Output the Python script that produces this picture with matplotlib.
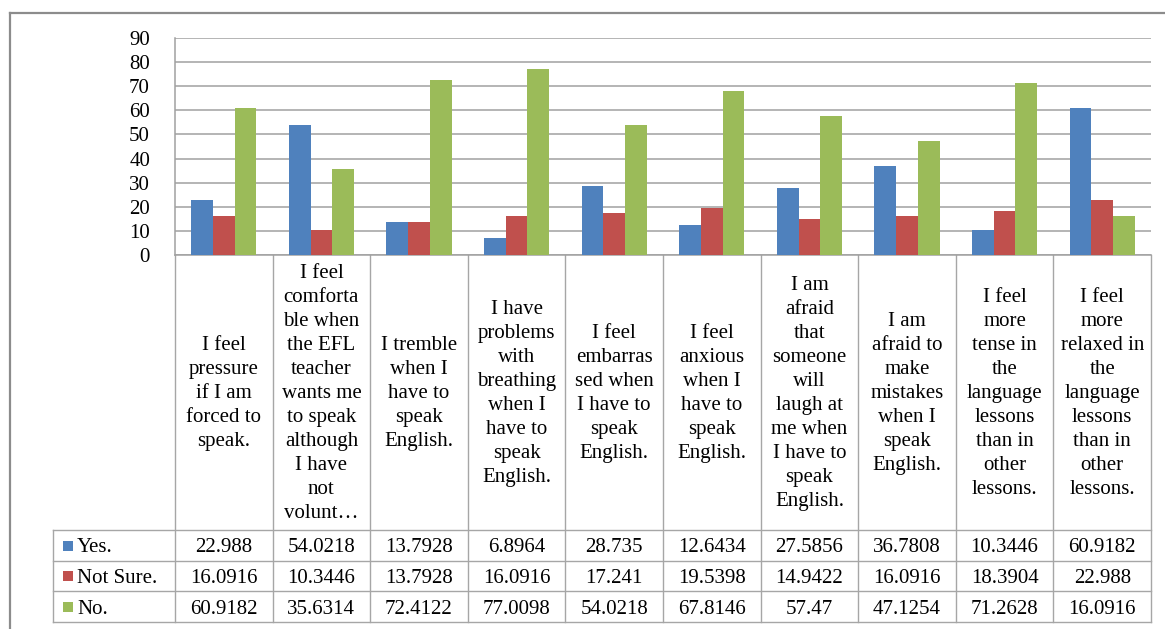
import matplotlib
matplotlib.use("Agg")
import matplotlib.pyplot as plt
from matplotlib.patches import Rectangle
from matplotlib.lines import Line2D

categories = [
    "I feel\npressure\nif I am\nforced to\nspeak.",
    "I feel\ncomforta\nble when\nthe EFL\nteacher\nwants me\nto speak\nalthough\nI have\nnot\nvolunt\u2026",
    "I tremble\nwhen I\nhave to\nspeak\nEnglish.",
    "I have\nproblems\nwith\nbreathing\nwhen I\nhave to\nspeak\nEnglish.",
    "I feel\nembarras\nsed when\nI have to\nspeak\nEnglish.",
    "I feel\nanxious\nwhen I\nhave to\nspeak\nEnglish.",
    "I am\nafraid\nthat\nsomeone\nwill\nlaugh at\nme when\nI have to\nspeak\nEnglish.",
    "I am\nafraid to\nmake\nmistakes\nwhen I\nspeak\nEnglish.",
    "I feel\nmore\ntense in\nthe\nlanguage\nlessons\nthan in\nother\nlessons.",
    "I feel\nmore\nrelaxed in\nthe\nlanguage\nlessons\nthan in\nother\nlessons.",
]
series_names = ["Yes.", "Not Sure.", "No."]
yes_vals = [22.988, 54.0218, 13.7928, 6.8964, 28.735, 12.6434, 27.5856, 36.7808, 10.3446, 60.9182]
notsure_vals = [16.0916, 10.3446, 13.7928, 16.0916, 17.241, 19.5398, 14.9422, 16.0916, 18.3904, 22.988]
no_vals = [60.9182, 35.6314, 72.4122, 77.0098, 54.0218, 67.8146, 57.47, 47.1254, 71.2628, 16.0916]
yticks = [0, 10, 20, 30, 40, 50, 60, 70, 80, 90]

colors = ["#4F81BD", "#C0504D", "#9BBB59"]
FONT = "Liberation Serif"
FS = 15
W, H = 1165, 629
grid_c = "#A0A0A0"
line_c = "#A6A6A6"

fig = plt.figure(figsize=(W / 100, H / 100), dpi=100)
fig.patch.set_facecolor("white")

# pixel layout
ax_l, ax_r, ax_t, ax_b = 175, 1151, 38, 255
ax = fig.add_axes([ax_l / W, 1 - ax_b / H, (ax_r - ax_l) / W, (ax_b - ax_t) / H])

n = len(categories)
bw = 1 / 4.5
series = [yes_vals, notsure_vals, no_vals]
for k, vals in enumerate(series):
    xs = [i + (k - 1) * bw for i in range(n)]
    ax.bar(xs, vals, width=bw, color=colors[k], zorder=3, linewidth=0)

ax.set_xlim(-0.5, n - 0.5)
ax.set_ylim(0, 90)
ax.set_yticks(yticks)
ax.set_yticklabels([str(t) for t in yticks], fontfamily=FONT, fontsize=FS)
ax.tick_params(axis="y", length=0, pad=18)
ax.tick_params(axis="x", length=0, labelbottom=False)
ax.yaxis.grid(True, color=grid_c, linewidth=1.1, zorder=0)
ax.set_axisbelow(True)
for s in ["top", "right"]:
    ax.spines[s].set_visible(False)
for s in ["left", "bottom"]:
    ax.spines[s].set_color(grid_c)
    ax.spines[s].set_linewidth(1.1)

# table overlay in pixel coordinates
tax = fig.add_axes([0, 0, 1, 1], zorder=-1)
tax.set_xlim(0, W)
tax.set_ylim(H, 0)
tax.axis("off")

col_w = (ax_r - ax_l) / n
edges = [ax_l + i * col_w for i in range(n + 1)]
lab_bot = 530
rows = [530, 561, 591, 622]
left_col = 53

for i, x in enumerate(edges):
    tax.plot([x, x], [ax_b, rows[-1]], color=line_c, lw=1.0)
tax.plot([left_col, left_col], [rows[0], rows[-1]], color=line_c, lw=1.0)
for y in rows:
    tax.plot([left_col, ax_r], [y, y], color=line_c, lw=1.0)

for i, lab in enumerate(categories):
    cx = (edges[i] + edges[i + 1]) / 2
    tax.text(cx, (ax_b + lab_bot) / 2 + 1, lab, ha="center", va="center",
             fontfamily=FONT, fontsize=FS, linespacing=1.36, multialignment="center")

for r, (name, vals) in enumerate(zip(series_names, series)):
    cy = (rows[r] + rows[r + 1]) / 2
    tax.add_patch(Rectangle((63, cy - 5), 10, 10, color=colors[r], lw=0))
    tax.text(77, cy, name, ha="left", va="center_baseline", fontfamily=FONT, fontsize=FS)
    for i, v in enumerate(vals):
        cx = (edges[i] + edges[i + 1]) / 2
        tax.text(cx, cy, f"{v:g}", ha="center", va="center_baseline",
                 fontfamily=FONT, fontsize=FS)

fig.add_artist(Line2D([10 / W, 10 / W], [1 - 13 / H, 0], color="#8C8C8C", lw=1.6,
                      transform=fig.transFigure))
fig.add_artist(Line2D([10 / W, 1], [1 - 13 / H, 1 - 13 / H], color="#8C8C8C", lw=1.6,
                      transform=fig.transFigure))

fig.savefig("out.png", dpi=100, facecolor="white")
